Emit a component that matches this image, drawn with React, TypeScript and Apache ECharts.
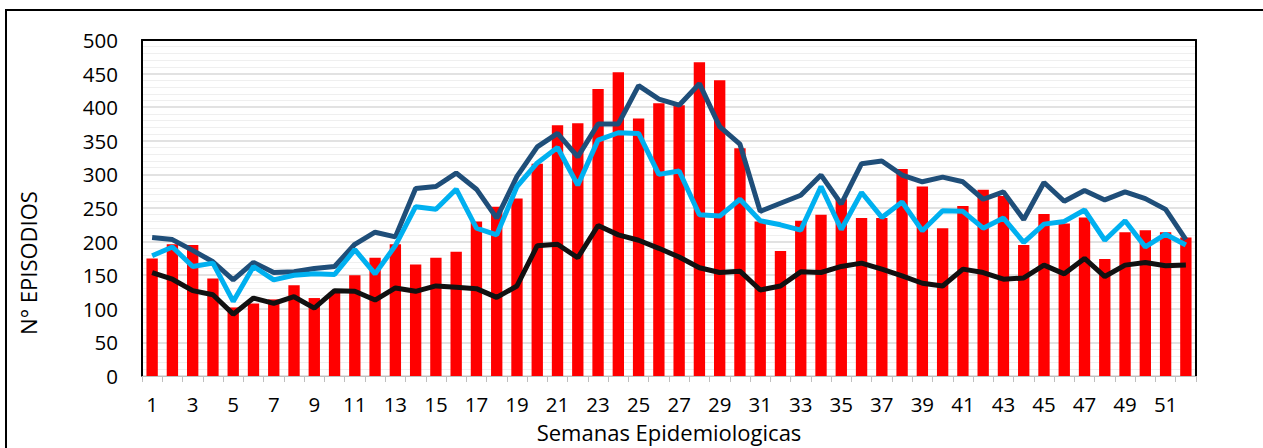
import React, { useEffect, useRef } from "react";
import * as echarts from "echarts";

const weeks = ["1","2","3","4","5","6","7","8","9","10","11","12","13","14","15","16","17","18","19","20","21","22","23","24","25","26","27","28","29","30","31","32","33","34","35","36","37","38","39","40","41","42","43","44","45","46","47","48","49","50","51","52"];

const episodios = [175,196,195,145,102,108,114,135,116,125,150,176,196,166,176,185,230,252,264,316,373,376,427,452,383,406,403,467,440,339,230,186,231,240,263,235,235,308,282,220,253,277,268,195,241,227,236,174,214,217,214,206];

const lineDark = [206,203,187,170,143,169,154,155,160,163,196,214,207,279,282,302,278,235,297,341,361,326,375,375,432,412,403,435,371,345,245,257,269,299,256,316,320,299,289,296,289,263,274,233,288,260,276,262,274,264,248,203];

const lineLight = [179,192,163,168,111,163,143,150,152,151,188,152,194,252,248,278,220,210,282,317,340,284,351,362,361,300,305,240,238,263,231,225,217,282,218,273,236,259,216,246,245,220,235,199,226,230,247,202,231,192,211,195];

const lineBlack = [154,144,127,121,92,116,108,118,101,127,126,113,131,126,134,132,130,117,134,194,196,176,224,210,202,190,177,161,154,156,128,134,155,154,163,168,159,149,138,134,159,154,144,146,165,152,175,148,165,169,164,165];

const yTitle = "N° EPISODIOS";
const xTitle = "Semanas Epidemiologicas";

const FONT = "'Open Sans', sans-serif";

export default function App() {
  const ref = useRef<HTMLDivElement>(null);
  useEffect(() => {
    if (!ref.current) return;
    const chart = echarts.init(ref.current, null, { renderer: "svg" });
    chart.setOption({
      animation: false,
      backgroundColor: "#ffffff",
      textStyle: { fontFamily: FONT },
      grid: { left: 142, top: 40, right: 67, bottom: 72, containLabel: false },
      graphic: [
        {
          type: "rect",
          shape: { x: 6, y: 10, width: 1320, height: 520 },
          style: { fill: "none", stroke: "#000000", lineWidth: 2 },
          silent: true,
        },
        {
          type: "text",
          x: 28,
          y: 263,
          rotation: Math.PI / 2,
          style: {
            text: yTitle,
            fontFamily: FONT,
            fontSize: 22,
            fill: "#000000",
            align: "center",
            verticalAlign: "middle",
          },
        },
      ],
      xAxis: [
        {
          type: "category",
          data: weeks,
          boundaryGap: true,
          name: xTitle,
          nameLocation: "middle",
          nameGap: 45,
          nameTextStyle: { fontSize: 22, color: "#000", fontFamily: FONT },
          axisLine: { show: true, lineStyle: { color: "#bfbfbf", width: 1 } },
          axisTick: { show: true, interval: 0, length: 6, lineStyle: { color: "#bfbfbf" } },
          axisLabel: { interval: 1, margin: 17, fontSize: 20.5, color: "#000", fontFamily: FONT },
          splitLine: { show: false },
        },
        {
          type: "category",
          data: weeks,
          position: "top",
          axisLine: { show: true, onZero: false, lineStyle: { color: "#000", width: 2 } },
          axisTick: { show: false },
          axisLabel: { show: false },
          splitLine: { show: false },
        },
      ],
      yAxis: [
        {
          type: "value",
          min: 0,
          max: 500,
          interval: 50,
          axisLine: { show: true, lineStyle: { color: "#000", width: 2 } },
          axisTick: { show: false },
          axisLabel: { margin: 24, fontSize: 20.5, color: "#000", fontFamily: FONT },
          splitLine: { show: true, lineStyle: { color: "#d9d9d9", width: 1.5 } },
          minorTick: { show: false, splitNumber: 5 },
          minorSplitLine: { show: true, lineStyle: { color: "#efefef", width: 1 } },
        },
        {
          type: "value",
          min: 0,
          max: 500,
          interval: 50,
          position: "right",
          axisLine: { show: true, lineStyle: { color: "#000", width: 2 } },
          axisTick: { show: false },
          axisLabel: { show: false },
          splitLine: { show: false },
        },
      ],
      series: [
        {
          name: "Episodios",
          type: "bar",
          data: episodios,
          barWidth: "56%",
          itemStyle: { color: "#ff0000" },
        },
        {
          name: "Máximo",
          type: "line",
          data: lineDark,
          symbol: "none",
          lineStyle: { color: "#1f4e79", width: 5 },
        },
        {
          name: "Esperado",
          type: "line",
          data: lineLight,
          symbol: "none",
          lineStyle: { color: "#00b0f0", width: 5 },
        },
        {
          name: "Mínimo",
          type: "line",
          data: lineBlack,
          symbol: "none",
          lineStyle: { color: "#111111", width: 5 },
        },
      ],
    });
    return () => chart.dispose();
  }, []);
  return (
    <div
      ref={ref}
      style={{ position: "absolute", left: 0, top: 0, width: 1263, height: 448 }}
    />
  );
}
